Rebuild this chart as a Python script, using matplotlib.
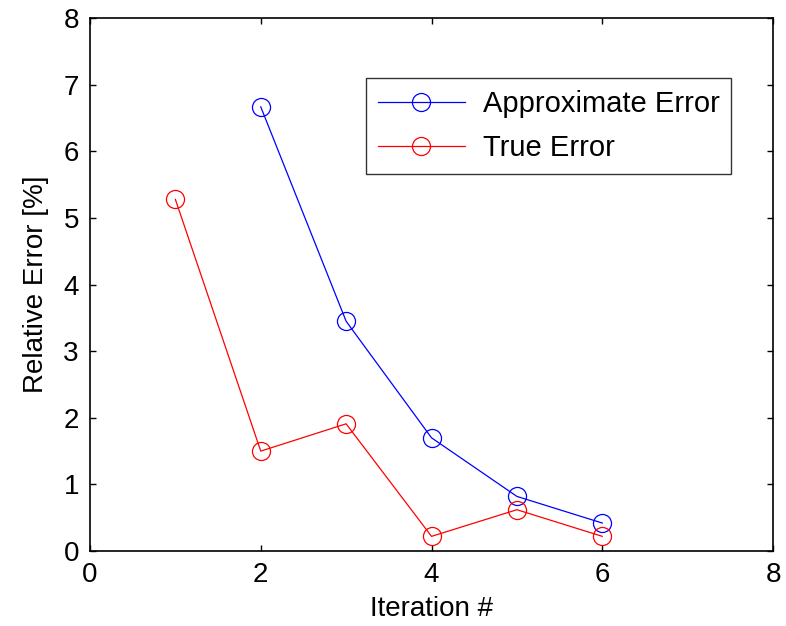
import numpy as np
import matplotlib.pyplot as plt

plt.rcParams['font.family'] = ['Liberation Sans', 'DejaVu Sans']

# Data
approx_iter = [2, 3, 4, 5, 6]
approx_err = [6.67, 3.45, 1.70, 0.82, 0.42]
true_iter = [1, 2, 3, 4, 5, 6]
true_err = [5.28, 1.50, 1.91, 0.22, 0.62, 0.22]

x_ticks = [0, 2, 4, 6, 8]
y_ticks = [0, 1, 2, 3, 4, 5, 6, 7, 8]


def main():
    fig = plt.figure(figsize=(7.86, 6.26), dpi=100)
    ax = fig.add_axes([0.1145, 0.1198, 0.869, 0.851])

    ax.plot(approx_iter, approx_err, color='blue', lw=0.9, marker='o',
            ms=13, mfc='none', mew=0.9, label='Approximate Error')
    ax.plot(true_iter, true_err, color='red', lw=0.9, marker='o',
            ms=13, mfc='none', mew=0.9, label='True Error')

    ax.set_xlim(0, 8)
    ax.set_ylim(0, 8)
    ax.set_xticks(x_ticks)
    ax.set_yticks(y_ticks)
    ax.tick_params(direction='in', length=4, width=1, top=True, right=True,
                   labelsize=20, pad=8)
    for sp in ax.spines.values():
        sp.set_linewidth(1.2)

    ax.set_xlabel('Iteration #', fontsize=20, labelpad=6)
    ax.set_ylabel('Relative Error [%]', fontsize=20, labelpad=10)

    leg = ax.legend(loc='upper left', bbox_to_anchor=(0.404, 0.887),
                    borderaxespad=0, fontsize=21, frameon=True,
                    fancybox=False, edgecolor='black', handlelength=3.0,
                    borderpad=0.4, labelspacing=0.55, handletextpad=0.6)
    leg.get_frame().set_linewidth(1.0)

    fig.savefig('out.png', dpi=100)


if __name__ == "__main__":
    main()
